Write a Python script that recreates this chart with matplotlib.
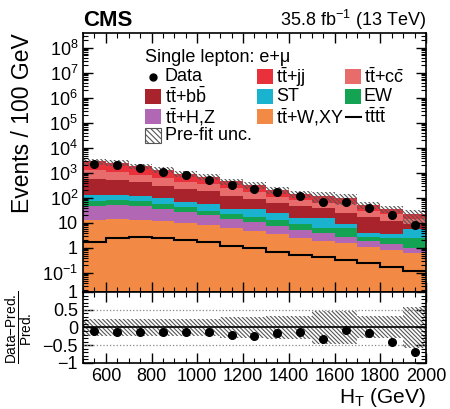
import numpy as np
import matplotlib
matplotlib.use("Agg")
import matplotlib.pyplot as plt
from matplotlib.patches import Rectangle
from matplotlib.lines import Line2D
from matplotlib.ticker import FixedLocator, MultipleLocator, LogLocator, NullFormatter

plt.rcParams['font.family'] = ['Liberation Sans', 'DejaVu Sans']
plt.rcParams['mathtext.fontset'] = 'custom'
plt.rcParams['mathtext.rm'] = 'Liberation Sans'
plt.rcParams['mathtext.it'] = 'Liberation Sans:italic'
plt.rcParams['mathtext.bf'] = 'Liberation Sans:bold'
plt.rcParams['hatch.linewidth'] = 0.8
plt.rcParams['hatch.color'] = '#555555'

# ---------------- data ----------------
ht_edges = [500, 600, 700, 800, 900, 1000, 1100, 1200, 1300, 1400,
            1500, 1600, 1700, 1800, 1900, 2000]
# background processes (events / bin), stacked bottom -> top
ttw_xy = [13, 14, 13, 12, 10, 8.3, 6.1, 4.6, 3.5, 2.5, 1.9, 1.6, 1.1, 0.81, 0.65]
tth_z  = [35, 37, 35, 24, 17, 11.7, 7.9, 6.4, 4.1, 2.7, 2.2, 1.15, 0.8, 0.69, 0.35]
ew     = [28, 30, 28, 21, 17, 10, 8, 6, 5.4, 4.1, 2.4, 3.35, 0.8, 0.9, 1.4]
st     = [54, 51, 44, 43, 28, 26, 14, 19, 11, 6.7, 9.5, 3.3, 1.2, 1.1, 3.2]
ttbb   = [430, 378, 300, 210, 158, 134, 89, 59, 38, 32, 25, 14.6, 13.1, 8.5, 3.9]
ttcc   = [730, 610, 430, 310, 200, 160, 115, 75, 48, 34, 24, 31, 13, 10, 4.5]
ttjj   = [1610, 1480, 1050, 730, 520, 350, 220, 150, 105, 63, 50, 45, 22, 13, 8]
tttt   = [1.74, 2.4, 2.8, 2.6, 2.1, 1.8, 1.2, 0.97, 0.72, 0.53, 0.42, 0.34, 0.25, 0.17, 0.125]
data   = [2350, 2100, 1550, 1100, 810, 525, 340, 223, 174, 124, 70, 69, 40, 20, 8.1]
# relative pre-fit uncertainty
prefit_unc = [0.25, 0.25, 0.25, 0.25, 0.25, 0.25, 0.30, 0.30, 0.32, 0.32,
              0.47, 0.47, 0.31, 0.31, 0.57]
# ratio panel (Data-Pred.)/Pred.
ratio     = [-0.09, -0.12, -0.14, -0.12, -0.12, -0.12, -0.22, -0.25, -0.15, -0.13,
             -0.32, -0.06, -0.15, -0.41, -0.70]
ratio_err = [0.02, 0.02, 0.02, 0.03, 0.03, 0.04, 0.04, 0.05, 0.06, 0.07,
             0.08, 0.10, 0.10, 0.12, 0.12]

labels = {
    'ttjj': r'$\mathrm{t\bar{t}}$+jj',
    'ttcc': r'$\mathrm{t\bar{t}}$+$\mathrm{c\bar{c}}$',
    'ttbb': r'$\mathrm{t\bar{t}}$+$\mathrm{b\bar{b}}$',
    'st': 'ST',
    'ew': 'EW',
    'tthz': r'$\mathrm{t\bar{t}}$+H,Z',
    'ttwxy': r'$\mathrm{t\bar{t}}$+W,XY',
    'tttt': r'$\mathrm{t\bar{t}t\bar{t}}$',
}
colors = {
    'ttjj': '#E8313B',
    'ttcc': '#E96C6C',
    'ttbb': '#A8232B',
    'st': '#19B2CF',
    'ew': '#13A352',
    'tthz': '#B267B4',
    'ttwxy': '#F28A45',
}

edges = np.array(ht_edges, dtype=float)
centres = 0.5 * (edges[:-1] + edges[1:])

fig = plt.figure(figsize=(4.5, 4.09), dpi=100)
ax = fig.add_axes([0.1844, 0.2861, 0.7622, 0.6333])
axr = fig.add_axes([0.1844, 0.1125, 0.7622, 0.1736], sharex=ax)

ymin, ymax = 10 ** -1.76, 10 ** 8.6
HATCH = '\\' * 8

stack = [('ttwxy', ttw_xy), ('tthz', tth_z), ('ew', ew), ('st', st),
         ('ttbb', ttbb), ('ttcc', ttcc), ('ttjj', ttjj)]
cum = np.zeros(len(centres))
for i, (key, vals) in enumerate(stack):
    top = cum + np.array(vals, dtype=float)
    base = 1e-3 if i == 0 else cum
    ax.stairs(top, edges, baseline=base, fill=True, color=colors[key], lw=0)
    cum = top
total = cum
unc = np.array(prefit_unc)
ax.stairs(total * (1 + unc), edges, baseline=total * (1 - unc), fill=True,
          facecolor='none', edgecolor='#555555', hatch=HATCH, lw=0)
ax.stairs(tttt, edges, baseline=None, color='black', lw=1.5)
ax.plot(centres, data, 'o', color='black', ms=5.5, zorder=5)

ax.set_yscale('log')
ax.set_ylim(ymin, ymax)
ax.set_xlim(500, 2000)
dec = [10.0 ** k for k in range(-1, 9)]
declab = [r'$10^{-1}$', '1', '10'] + [r'$10^{%d}$' % k for k in range(2, 9)]
ax.yaxis.set_major_locator(FixedLocator(dec))
ax.set_yticklabels(declab)
ax.yaxis.set_minor_locator(LogLocator(base=10, subs=np.arange(2, 10), numticks=50))
ax.yaxis.set_minor_formatter(NullFormatter())
ax.xaxis.set_major_locator(MultipleLocator(200))
ax.xaxis.set_minor_locator(MultipleLocator(50))
ax.tick_params(axis='x', labelbottom=False)

for a in (ax, axr):
    a.tick_params(which='both', direction='in', top=True, right=True, labelsize=13)
    a.tick_params(which='major', length=7, width=1)
    a.tick_params(which='minor', length=3.5, width=0.8)
    for s in a.spines.values():
        s.set_linewidth(1.2)

ax.set_ylabel('Events / 100 GeV', fontsize=16.5, loc='top', labelpad=6)

# header
ax.text(0.0, 1.027, 'CMS', transform=ax.transAxes, fontsize=16, fontweight='bold',
        ha='left', va='baseline')
ax.text(1.0, 1.027, r'35.8 fb$^{-1}$ (13 TeV)', transform=ax.transAxes, fontsize=13,
        ha='right', va='baseline')

# legend (manual layout)
def axc(px, py):
    return ((px - 83) / 343.0, (292 - py) / 259.0)

bw, bh = 16 / 343.0, 15 / 259.0
fs_leg = 13
ax.text(*axc(145, 58), 'Single lepton: e+μ', transform=ax.transAxes,
        fontsize=fs_leg, ha='left', va='center')

rows_y = [77, 97, 117, 136]
col_box = [145, 257, 345]
col_txt = [165, 276, 364]

def box(col, row, color, hatch=None):
    x, y = axc(col_box[col], rows_y[row])
    if hatch:
        r = Rectangle((x, y - bh / 2), bw, bh, transform=ax.transAxes, facecolor='white',
                      edgecolor='#555555', hatch=hatch, lw=0.8)
    else:
        r = Rectangle((x, y - bh / 2), bw, bh, transform=ax.transAxes, facecolor=color,
                      edgecolor='none')
    ax.add_patch(r)

def txt(col, row, s):
    x, y = axc(col_txt[col], rows_y[row])
    ax.text(x, y, s, transform=ax.transAxes, fontsize=fs_leg, ha='left', va='center')

# row 1
x, y = axc(153, rows_y[0])
ax.add_line(Line2D([x], [y], transform=ax.transAxes, marker='o', color='black', ms=5, ls='none'))
txt(0, 0, 'Data')
box(1, 0, colors['ttjj']); txt(1, 0, labels['ttjj'])
box(2, 0, colors['ttcc']); txt(2, 0, labels['ttcc'])
# row 2
box(0, 1, colors['ttbb']); txt(0, 1, labels['ttbb'])
box(1, 1, colors['st']); txt(1, 1, labels['st'])
box(2, 1, colors['ew']); txt(2, 1, labels['ew'])
# row 3
box(0, 2, colors['tthz']); txt(0, 2, labels['tthz'])
box(1, 2, colors['ttwxy']); txt(1, 2, labels['ttwxy'])
x0, y0 = axc(346, rows_y[2]); x1, _ = axc(361, rows_y[2])
ax.add_line(Line2D([x0, x1], [y0, y0], transform=ax.transAxes, color='black', lw=1.5))
txt(2, 2, labels['tttt'])
# row 4
box(0, 3, None, hatch='\\' * 6); txt(0, 3, 'Pre-fit unc.')

# ratio panel
axr.stairs(unc, edges, baseline=-unc, fill=True, facecolor='none',
           edgecolor='#555555', hatch=HATCH, lw=0)
axr.axhline(0, color='black', lw=1.2)
for yv in (0.5, -0.5):
    axr.axhline(yv, color='#888888', ls=':', lw=0.9)
axr.errorbar(centres, ratio, yerr=ratio_err, fmt='o', color='black', ms=5.5,
             elinewidth=1.2, capsize=0, zorder=5)
axr.set_ylim(-1, 1)
axr.set_xlim(500, 2000)
axr.yaxis.set_major_locator(FixedLocator([-1, -0.5, 0, 0.5, 1]))
axr.set_yticklabels(['\u22121', '\u22120.5', '0', '0.5', '1'])
axr.yaxis.set_minor_locator(MultipleLocator(0.1))
axr.xaxis.set_major_locator(MultipleLocator(200))
axr.xaxis.set_minor_locator(MultipleLocator(50))
axr.set_xlabel(r'H$_{\mathrm{T}}$ (GeV)', fontsize=15, loc='right', labelpad=1)
axr.set_ylabel(r'$\frac{\mathrm{Data{-}Pred.}}{\mathrm{Pred.}}$', fontsize=14, labelpad=5)

fig.savefig('out.png', dpi=100)
